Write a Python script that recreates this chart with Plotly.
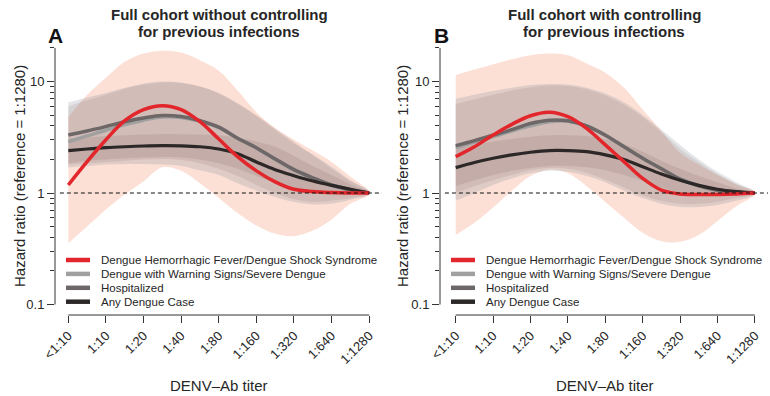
import plotly.graph_objects as go

# ---------------- data ----------------
titer_labels = ["<1:10", "1:10", "1:20", "1:40", "1:80", "1:160", "1:320", "1:640", "1:1280"]
titer_pos = [0, 0.5, 1, 1.5, 2, 2.5, 3, 3.5, 4, 4.5, 5, 5.5, 6, 6.5, 7, 7.5, 8]

series_names = [
    "Dengue Hemorrhagic Fever/Dengue Shock Syndrome",
    "Dengue with Warning Signs/Severe Dengue",
    "Hospitalized",
    "Any Dengue Case",
]

# Panel A: without controlling for previous infections
a_dhf = [1.18, 1.91, 3.0, 4.45, 5.6, 6.07, 5.6, 4.36, 3.05, 2.12, 1.58, 1.26, 1.08, 1.03, 1.01, 1.0, 1.0]
a_dhf_lo = [0.354, 0.50, 0.71, 0.97, 1.27, 1.70, 1.58, 1.22, 0.90, 0.66, 0.51, 0.43, 0.41, 0.46, 0.58, 0.80, 0.97]
a_dhf_hi = [4.8, 7.6, 10.8, 15.0, 17.8, 18.9, 18.2, 15.5, 12.5, 8.3, 5.3, 3.8, 3.0, 2.4, 1.9, 1.4, 1.04]

a_warn = [2.88, 3.25, 3.65, 4.1, 4.5, 4.8, 4.75, 4.4, 3.85, 3.1, 2.52, 2.0, 1.6, 1.35, 1.17, 1.06, 1.0]
a_warn_lo = [1.7, 1.75, 1.8, 1.82, 1.82, 1.8, 1.75, 1.6, 1.45, 1.22, 1.05, 0.92, 0.83, 0.79, 0.8, 0.87, 0.97]
a_warn_hi = [6.5, 7.2, 7.9, 8.8, 9.6, 10.0, 9.8, 9.0, 7.8, 6.3, 4.9, 3.7, 2.8, 2.2, 1.72, 1.3, 1.03]

a_hosp = [3.31, 3.6, 3.95, 4.35, 4.7, 4.95, 4.85, 4.45, 3.9, 3.1, 2.55, 2.02, 1.62, 1.37, 1.18, 1.07, 1.0]
a_hosp_lo = [1.8, 1.85, 1.9, 1.95, 2.0, 2.02, 1.98, 1.85, 1.65, 1.42, 1.18, 1.0, 0.88, 0.83, 0.85, 0.9, 0.98]
a_hosp_hi = [6.0, 6.8, 7.6, 8.6, 9.4, 9.8, 9.7, 9.0, 7.9, 6.4, 5.0, 3.8, 2.9, 2.2, 1.65, 1.28, 1.03]

a_any = [2.4, 2.48, 2.55, 2.6, 2.64, 2.66, 2.65, 2.6, 2.48, 2.25, 1.9, 1.62, 1.43, 1.28, 1.17, 1.08, 1.0]
a_any_lo = [1.85, 1.95, 2.0, 2.05, 2.08, 2.1, 2.08, 2.0, 1.85, 1.65, 1.42, 1.22, 1.08, 1.0, 0.96, 0.96, 0.99]
a_any_hi = [3.1, 3.15, 3.25, 3.3, 3.35, 3.38, 3.37, 3.35, 3.3, 3.15, 2.9, 2.6, 2.15, 1.75, 1.45, 1.2, 1.02]

# Panel B: with controlling for previous infections
b_dhf = [2.12, 2.6, 3.31, 4.13, 4.93, 5.3, 4.84, 3.8, 2.7, 1.91, 1.35, 1.06, 0.98, 0.97, 0.97, 0.98, 1.0]
b_dhf_lo = [0.42, 0.54, 0.74, 1.05, 1.42, 1.62, 1.5, 1.15, 0.83, 0.6, 0.44, 0.37, 0.365, 0.42, 0.56, 0.76, 0.97]
b_dhf_hi = [11.4, 12.8, 14.3, 15.8, 17.2, 17.8, 17.2, 14.5, 12.0, 8.8, 5.6, 3.6, 2.3, 1.8, 1.45, 1.2, 1.03]

b_warn = [2.55, 2.85, 3.2, 3.6, 4.0, 4.35, 4.4, 4.0, 3.3, 2.6, 2.05, 1.65, 1.33, 1.16, 1.06, 1.02, 1.0]
b_warn_lo = [0.85, 1.0, 1.18, 1.35, 1.5, 1.58, 1.55, 1.42, 1.25, 1.05, 0.9, 0.8, 0.75, 0.75, 0.78, 0.85, 0.97]
b_warn_hi = [7.0, 7.6, 8.2, 8.8, 9.3, 9.5, 9.4, 8.8, 7.8, 6.5, 5.0, 3.7, 2.7, 2.0, 1.55, 1.25, 1.03]

b_hosp = [2.66, 2.95, 3.3, 3.7, 4.2, 4.5, 4.45, 4.0, 3.3, 2.6, 2.05, 1.65, 1.33, 1.16, 1.06, 1.02, 1.0]
b_hosp_lo = [1.0, 1.15, 1.3, 1.45, 1.6, 1.68, 1.65, 1.52, 1.32, 1.12, 0.95, 0.85, 0.8, 0.8, 0.83, 0.9, 0.98]
b_hosp_hi = [6.3, 6.9, 7.6, 8.3, 8.9, 9.2, 9.1, 8.5, 7.5, 6.2, 4.8, 3.5, 2.5, 1.9, 1.48, 1.2, 1.02]

b_any = [1.69, 1.88, 2.05, 2.2, 2.32, 2.4, 2.4, 2.35, 2.2, 2.0, 1.72, 1.48, 1.3, 1.17, 1.08, 1.03, 1.0]
b_any_lo = [1.15, 1.3, 1.45, 1.58, 1.68, 1.75, 1.75, 1.7, 1.6, 1.45, 1.28, 1.12, 1.0, 0.95, 0.94, 0.96, 0.99]
b_any_hi = [2.5, 2.7, 2.9, 3.05, 3.2, 3.3, 3.3, 3.25, 3.05, 2.75, 2.35, 1.95, 1.65, 1.42, 1.25, 1.1, 1.02]

y_major = [0.1, 1, 10]
y_major_text = ["0.1", "1", "10"]
y_minor = [0.2, 0.3, 0.4, 0.5, 0.6, 0.7, 0.8, 0.9, 2, 3, 4, 5, 6, 7, 8, 9, 20]

# ---------------- styles ----------------
W, H = 770, 396
FONT = "Liberation Sans, Arial, Helvetica, sans-serif"
TXT = "#262626"
line_colors = ["#e2262b", "#a0a0a0", "#6e6767", "#2c2828"]
line_widths = [3.5, 3.5, 3.5, 3.2]
band_colors = [
    "rgba(248,178,152,0.40)",
    "rgba(125,132,145,0.21)",
    "rgba(135,100,95,0.15)",
    "rgba(105,75,70,0.13)",
]


def px(x):
    return x / W


def py(y):
    return 1 - y / H


panels = [
    dict(
        xa="x", ya="y", xdom=[px(55), px(382)], xrange=[-0.354, 8.34], yaxis_px=55,
        title=["Full cohort without controlling", "for previous infections"], tx=219, letter="A", lx=55,
        ytitle_x=19, xtitle_x=219, leg_x=66,
        data=[(a_dhf, a_dhf_lo, a_dhf_hi), (a_warn, a_warn_lo, a_warn_hi),
              (a_hosp, a_hosp_lo, a_hosp_hi), (a_any, a_any_lo, a_any_hi)],
    ),
    dict(
        xa="x2", ya="y2", xdom=[px(440), px(768)], xrange=[-0.42, 8.35], yaxis_px=440,
        title=["Full cohort with controlling", "for previous infections"], tx=604, letter="B", lx=441,
        ytitle_x=402, xtitle_x=605, leg_x=451,
        data=[(b_dhf, b_dhf_lo, b_dhf_hi), (b_warn, b_warn_lo, b_warn_hi),
              (b_hosp, b_hosp_lo, b_hosp_hi), (b_any, b_any_lo, b_any_hi)],
    ),
]

Y_TOP_PX, Y_BOT_PX = 40, 315
ydom = [py(Y_BOT_PX), py(Y_TOP_PX)]
# log range: value 1 at 193 px, one decade = 111.5 px
yrange = [(193 - Y_BOT_PX) / 111.5, (193 - Y_TOP_PX) / 111.5]

fig = go.Figure()
shapes = []
annotations = []

for p in panels:
    # bands
    for k, (est, lo, hi) in enumerate(p["data"]):
        fig.add_trace(go.Scatter(
            x=titer_pos + titer_pos[::-1], y=hi + lo[::-1],
            fill="toself", fillcolor=band_colors[k], line=dict(width=0, shape="spline"),
            mode="lines", hoverinfo="skip", showlegend=False,
            xaxis=p["xa"], yaxis=p["ya"],
        ))
    # lines (drawn so that red sits on top)
    for k in [1, 2, 3, 0]:
        est = p["data"][k][0]
        fig.add_trace(go.Scatter(
            x=titer_pos, y=est, mode="lines", name=series_names[k],
            line=dict(color=line_colors[k], width=line_widths[k], shape="spline"),
            showlegend=False, xaxis=p["xa"], yaxis=p["ya"],
        ))

    # reference dashed line at HR = 1
    shapes.append(dict(type="line", xref=p["xa"] + " domain", yref=p["ya"], x0=0.015, x1=1, y0=1, y1=1,
                       line=dict(color="#111", width=1, dash="4px,3px")))
    # axis lines spanning the tick range (R style)
    shapes.append(dict(type="line", xref=p["xa"], yref="paper", x0=0, x1=8,
                       y0=py(Y_BOT_PX), y1=py(Y_BOT_PX), line=dict(color="#333", width=1)))
    shapes.append(dict(type="line", xref="paper", yref=p["ya"], x0=px(p["yaxis_px"]), x1=px(p["yaxis_px"]),
                       y0=0.1, y1=20, line=dict(color="#333", width=1)))

    # titles
    for j, line in enumerate(p["title"]):
        annotations.append(dict(xref="paper", yref="paper", x=px(p["tx"]), y=py(14 + 18 * j), xanchor="center",
                                yanchor="middle", text="<b>" + line + "</b>", showarrow=False,
                                font=dict(size=15, color=TXT, family=FONT)))
    annotations.append(dict(xref="paper", yref="paper", x=px(p["lx"]), y=py(35.5), xanchor="center",
                            yanchor="middle", text="<b>" + p["letter"] + "</b>", showarrow=False,
                            font=dict(size=21, color="#111", family="Liberation Sans Narrow, " + FONT)))
    annotations.append(dict(xref="paper", yref="paper", x=px(p["ytitle_x"]), y=py(176), xanchor="center",
                            yanchor="middle", text="Hazard ratio (reference = 1:1280)", textangle=-90,
                            showarrow=False, font=dict(size=15, color=TXT, family=FONT)))
    annotations.append(dict(xref="paper", yref="paper", x=px(p["xtitle_x"]), y=py(385), xanchor="center",
                            yanchor="middle", text="DENV–Ab titer", showarrow=False,
                            font=dict(size=15, color=TXT, family=FONT)))

    # legend (manual, compact R-style)
    for k, name in enumerate(series_names):
        yy = 260 + 13.9 * k
        shapes.append(dict(type="line", xref="paper", yref="paper", x0=px(p["leg_x"]), x1=px(p["leg_x"] + 24),
                           y0=py(yy), y1=py(yy), line=dict(color=line_colors[k], width=4.5)))
        annotations.append(dict(xref="paper", yref="paper", x=px(p["leg_x"] + 33), y=py(yy), xanchor="left",
                                yanchor="middle", text=name, showarrow=False,
                                font=dict(size=11.5, color=TXT, family=FONT)))

xaxis_common = dict(
    tickmode="array", tickvals=list(range(9)), ticktext=titer_labels, tickangle=-45,
    ticks="outside", ticklen=7, tickwidth=1, tickcolor="#333", showline=False, showgrid=False,
    zeroline=False, tickfont=dict(size=13, color=TXT, family=FONT), fixedrange=True, automargin=False,
)
yaxis_common = dict(
    type="log", range=yrange, domain=ydom, tickmode="array", tickvals=y_major, ticktext=y_major_text,
    ticks="outside", ticklen=7, tickwidth=1, tickcolor="#333", showline=False, showgrid=False,
    zeroline=False, tickfont=dict(size=13, color=TXT, family=FONT),
    minor=dict(tickmode="array", tickvals=y_minor, ticks="outside", ticklen=4, tickwidth=1,
               tickcolor="#333", showgrid=False),
    fixedrange=True, automargin=False,
)

fig.update_layout(
    template="none",
    width=W, height=H, margin=dict(l=0, r=0, t=0, b=0, pad=0, autoexpand=False),
    paper_bgcolor="white", plot_bgcolor="white", showlegend=False,
    font=dict(family=FONT, color=TXT),
    xaxis=dict(domain=panels[0]["xdom"], range=panels[0]["xrange"], anchor="y", **xaxis_common),
    yaxis=dict(anchor="x", **yaxis_common),
    xaxis2=dict(domain=panels[1]["xdom"], range=panels[1]["xrange"], anchor="y2", **xaxis_common),
    yaxis2=dict(anchor="x2", **yaxis_common),
    shapes=shapes, annotations=annotations,
)

fig.write_html(
    "out.html",
    config={"displayModeBar": False},
    post_script="document.body.style.margin='0px';document.body.style.overflow='hidden';",
)
